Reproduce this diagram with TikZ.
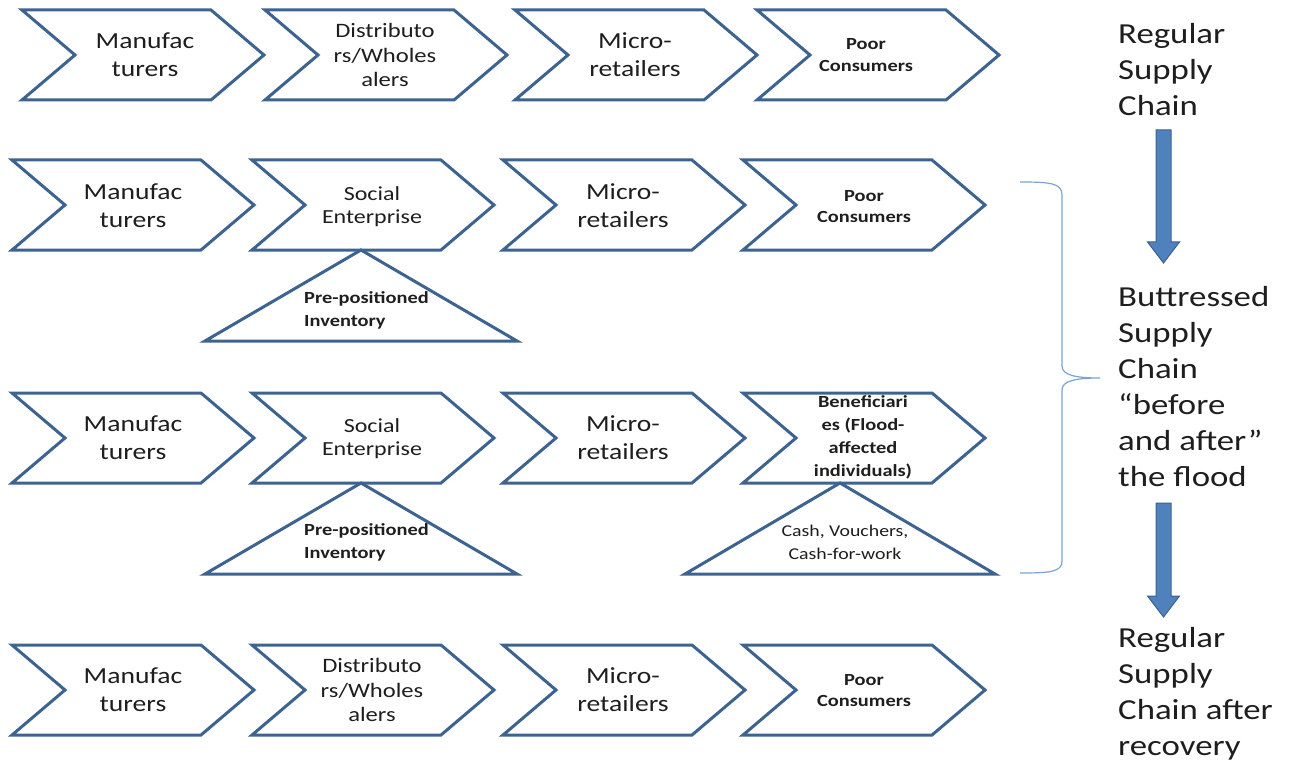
\documentclass[tikz,border=0pt]{standalone}
\usepackage{fontspec}
\setmainfont[FakeStretch=1.2]{Carlito}
\usetikzlibrary{calc}
\definecolor{chevblue}{HTML}{3D6390}
\definecolor{arrfill}{HTML}{4F81BD}
\definecolor{arrdraw}{HTML}{3A6190}
\definecolor{bracecol}{HTML}{7DA4CF}
\definecolor{txt}{HTML}{1E1E1E}
\tikzset{
  shapeline/.style={draw=chevblue, line width=3pt, line join=miter},
  basetxt/.style={text=txt, inner sep=0pt, align=center},
  bigtxt/.style={basetxt, font=\fontsize{23}{28}\selectfont},
  midtxt/.style={basetxt, font=\fontsize{20.5}{24.5}\selectfont},
  soctxt/.style={basetxt, font=\fontsize{20}{23}\selectfont},
  smallbold/.style={basetxt, font=\bfseries\fontsize{17}{21.5}\selectfont},
  benbold/.style={basetxt, font=\bfseries\fontsize{17}{23}\selectfont},
  cashtxt/.style={basetxt, font=\fontsize{16.5}{23}\selectfont},
  invtxt/.style={basetxt, align=left, anchor=west, font=\bfseries\fontsize{17}{23}\selectfont},
  sidetxt/.style={text=txt, inner sep=0pt, align=left, anchor=west, font=\fontsize{29}{36}\selectfont},
  blockarrow/.style={fill=arrfill, draw=arrdraw, line width=1pt, line join=miter},
  bracestyle/.style={draw=bracecol, line width=1.2pt}
}
% chevron: left x, centre y, name of its centre coordinate
\newcommand\chevron[3]{%
  \draw[shapeline] (#1,#2-45) -- (#1+189,#2-45) -- (#1+242,#2) -- (#1+189,#2+45)
    -- (#1,#2+45) -- (#1+53,#2) -- cycle;
  \coordinate (#3) at (#1+121,#2);}
% triangle: apex x, apex y, half base, height, name
\newcommand\tri[5]{%
  \draw[shapeline] (#1,#2) -- (#1+#3,#2+#4) -- (#1-#3,#2+#4) -- cycle;
  \coordinate (#5) at (#1,#2+#4/2);}
% block arrow: x centre, top y, bottom (tip) y
\newcommand\barrow[3]{%
  \draw[blockarrow] (#1-7.5,#2) -- (#1+7.5,#2) -- (#1+7.5,#3-21) -- (#1+16,#3-21)
    -- (#1,#3) -- (#1-16,#3-21) -- (#1-7.5,#3-21) -- cycle;}
\begin{document}
\begin{tikzpicture}[x=1pt,y=-1pt]
\useasboundingbox (0,0) rectangle (1297,767);
% row 1
\chevron{22}{55}{c11}\chevron{265}{55}{c12}\chevron{515}{55}{c13}\chevron{757}{55}{c14}
\node[bigtxt] (m1) at (145,55) {Manufac\\turers};
\node[midtxt] (d1) at (385,55) {Distributo\\rs/Wholes\\alers};
\node[bigtxt] (r1) at (635,55) {Micro-\\retailers};
\node[smallbold] (p1) at (866,55) {Poor\\Consumers};
% row 2
\chevron{12}{205}{c21}\chevron{252}{205}{c22}\chevron{503}{205}{c23}\chevron{743}{205}{c24}
\node[bigtxt] (m2) at (133,206) {Manufac\\turers};
\node[soctxt] (s2) at (372,206.5) {Social\\Enterprise};
\node[bigtxt] (r2) at (623,206) {Micro-\\retailers};
\node[smallbold] (p2) at (864,206.5) {Poor\\Consumers};
\tri{361}{250}{156}{91}{t2}
\node[invtxt] (i2) at (304,310) {Pre-positioned\\Inventory};
% row 3
\chevron{12}{438}{c31}\chevron{252}{438}{c32}\chevron{503}{438}{c33}\chevron{743}{438}{c34}
\node[bigtxt] (m3) at (133,438) {Manufac\\turers};
\node[soctxt] (s3) at (372,438.5) {Social\\Enterprise};
\node[bigtxt] (r3) at (623,438) {Micro-\\retailers};
\node[benbold] (b3) at (863,437.5) {Beneficiari\\es (Flood-\\affected\\individuals)};
\tri{361}{483}{156}{91}{t3}
\tri{840}{483}{155}{91}{t4}
\node[invtxt] (i3) at (304,542) {Pre-positioned\\Inventory};
\node[cashtxt] (k3) at (845,542) {Cash, Vouchers,\\Cash-for-work};
% row 4
\chevron{12}{690}{c41}\chevron{252}{690}{c42}\chevron{503}{690}{c43}\chevron{743}{690}{c44}
\node[bigtxt] (m4) at (133,690) {Manufac\\turers};
\node[midtxt] (d4) at (372,690) {Distributo\\rs/Wholes\\alers};
\node[bigtxt] (r4) at (623,690) {Micro-\\retailers};
\node[smallbold] (p4) at (864,690.5) {Poor\\Consumers};
% right column
\node[sidetxt] (reg) at (1118,70) {Regular\\Supply\\Chain};
\node[sidetxt] (but) at (1118,387) {Buttressed\\Supply\\Chain\\“before\\and after”\\the flood};
\node[sidetxt] (rec) at (1118,694) {Regular\\Supply\\Chain after\\recovery};
\barrow{1163.5}{130}{263}
\barrow{1163.5}{503}{617}
% brace
\draw[bracestyle] (1020,182) .. controls (1050,182) and (1062,183) .. (1062,195)
  -- (1062,366) .. controls (1062,375) and (1075,378) .. (1100,378)
  .. controls (1075,378) and (1062,381) .. (1062,390)
  -- (1062,561) .. controls (1062,572) and (1050,573) .. (1020,573);
\end{tikzpicture}
\end{document}
